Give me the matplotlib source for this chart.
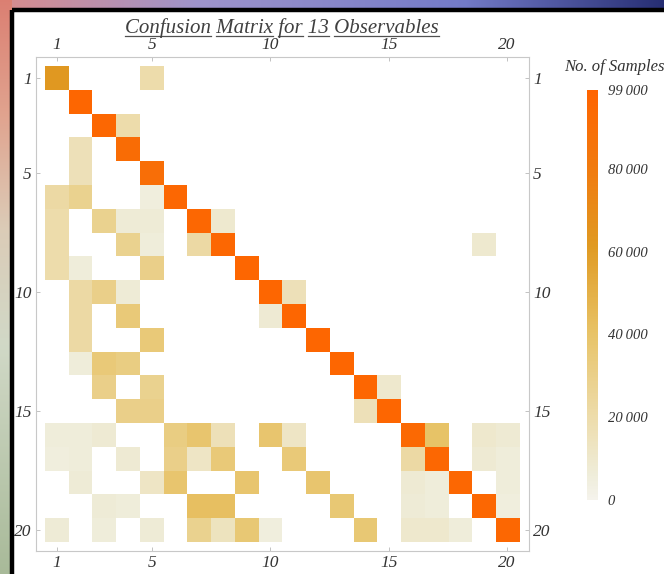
import numpy as np
import matplotlib.pyplot as plt
from matplotlib.colors import LinearSegmentedColormap
from matplotlib.patches import Rectangle
from matplotlib.lines import Line2D

plt.rcParams['font.family'] = ['Liberation Serif', 'DejaVu Serif']
plt.rcParams['font.style'] = 'italic'

# sample counts in thousands, row = true class, column = predicted class
counts_k = [
    [62, 0, 0, 0, 20, 0, 0, 0, 0, 0, 0, 0, 0, 0, 0, 0, 0, 0, 0, 0],
    [0, 97, 0, 0, 0, 0, 0, 0, 0, 0, 0, 0, 0, 0, 0, 0, 0, 0, 0, 0],
    [0, 0, 96, 20, 0, 0, 0, 0, 0, 0, 0, 0, 0, 0, 0, 0, 0, 0, 0, 0],
    [0, 16, 0, 92, 0, 0, 0, 0, 0, 0, 0, 0, 0, 0, 0, 0, 0, 0, 0, 0],
    [0, 16, 0, 0, 90, 0, 0, 0, 0, 0, 0, 0, 0, 0, 0, 0, 0, 0, 0, 0],
    [22, 28, 0, 0, 5, 96, 0, 0, 0, 0, 0, 0, 0, 0, 0, 0, 0, 0, 0, 0],
    [20, 0, 28, 7, 7, 0, 96, 9, 0, 0, 0, 0, 0, 0, 0, 0, 0, 0, 0, 0],
    [20, 0, 0, 28, 6, 0, 22, 96, 0, 0, 0, 0, 0, 0, 0, 0, 0, 0, 9, 0],
    [20, 6, 0, 0, 30, 0, 0, 0, 97, 0, 0, 0, 0, 0, 0, 0, 0, 0, 0, 0],
    [0, 22, 30, 7, 0, 0, 0, 0, 0, 97, 16, 0, 0, 0, 0, 0, 0, 0, 0, 0],
    [0, 22, 0, 35, 0, 0, 0, 0, 0, 8, 97, 0, 0, 0, 0, 0, 0, 0, 0, 0],
    [0, 22, 0, 0, 35, 0, 0, 0, 0, 0, 0, 97, 0, 0, 0, 0, 0, 0, 0, 0],
    [0, 6, 35, 32, 0, 0, 0, 0, 0, 0, 0, 0, 97, 0, 0, 0, 0, 0, 0, 0],
    [0, 0, 30, 0, 28, 0, 0, 0, 0, 0, 0, 0, 0, 97, 10, 0, 0, 0, 0, 0],
    [0, 0, 0, 30, 30, 0, 0, 0, 0, 0, 0, 0, 0, 16, 97, 0, 0, 0, 0, 0],
    [6, 6, 8, 0, 0, 32, 38, 16, 0, 38, 12, 0, 0, 0, 0, 94, 40, 0, 10, 8],
    [5, 6, 0, 8, 0, 30, 12, 35, 0, 0, 35, 0, 0, 0, 0, 22, 96, 0, 8, 6],
    [0, 7, 0, 0, 12, 38, 0, 0, 38, 0, 0, 38, 0, 0, 0, 8, 6, 96, 0, 6],
    [0, 0, 7, 6, 0, 0, 42, 42, 0, 0, 0, 0, 36, 0, 0, 7, 6, 0, 96, 5],
    [7, 0, 6, 0, 7, 0, 28, 14, 36, 5, 0, 0, 0, 36, 0, 10, 10, 6, 0, 96],
]
frame_ticks = [1, 5, 10, 15, 20]
cbar_ticks = [0, 20000, 40000, 60000, 80000, 99000]
title = "Confusion Matrix for 13 Observables"
cbar_title = "No. of Samples"

counts = np.array(counts_k) * 1000
n = counts.shape[0]

W, H = 664, 574
fig = plt.figure(figsize=(W / 100, H / 100), dpi=100)

# slide-style backdrop: gradient bands on top and left, black frame
bg = np.ones((H, W, 3))
tx = np.linspace(0, 1, W)
top_stops = [0, 0.3, 0.7, 1]
top_cols = np.array([[0.85, 0.55, 0.55], [0.62, 0.58, 0.80],
                     [0.45, 0.48, 0.78], [0.15, 0.18, 0.45]])
top = np.stack([np.interp(tx, top_stops, top_cols[:, c]) for c in range(3)], axis=1)
bg[:9, :, :] = top[None, :, :]
ty = np.linspace(0, 1, H)
left_stops = [0, 0.2, 0.4, 0.6, 1]
left_cols = np.array([[0.86, 0.50, 0.45], [0.88, 0.64, 0.56], [0.86, 0.80, 0.72],
                      [0.82, 0.85, 0.78], [0.66, 0.73, 0.60]])
left = np.stack([np.interp(ty, left_stops, left_cols[:, c]) for c in range(3)], axis=1)
bg[:, :12, :] = left[:, None, :]
bg_ax = fig.add_axes([0, 0, 1, 1], zorder=-1)
bg_ax.imshow(bg, extent=(0, W, H, 0), aspect='auto')
bg_ax.add_patch(Rectangle((11.5, 9.5), W, H, fill=False, lw=3.2, ec='black'))
bg_ax.set_xlim(0, W)
bg_ax.set_ylim(H, 0)
bg_ax.axis('off')

cmap = LinearSegmentedColormap.from_list('samples', [
    (0.0, '#f5f3ec'), (0.06, '#efedda'), (0.2, '#eddcab'), (0.4, '#e8c469'),
    (0.62, '#e09a22'), (0.8, '#f07c10'), (1.0, '#ff6400')])

ax = fig.add_axes([36 / W, 1 - 551 / H, (529 - 36) / W, (551 - 57) / H])
data = np.ma.masked_equal(counts, 0)
im = ax.imshow(data, cmap=cmap, vmin=0, vmax=99000, extent=(0.5, n + 0.5, n + 0.5, 0.5),
               interpolation='nearest', aspect='auto')
ax.set_xlim(0.12, n + 0.92)
ax.set_ylim(n + 0.88, 0.12)
ax.set_xticks(frame_ticks)
ax.set_yticks(frame_ticks)
ax.tick_params(top=True, right=True, labeltop=True, labelright=True, direction='in',
               length=3, width=0.6, color='#b8b8b8', labelcolor='#333333',
               labelsize=12.5, pad=3)
for s in ax.spines.values():
    s.set_color('#c8c8c8')
    s.set_linewidth(0.8)

cax = fig.add_axes([587 / W, 1 - 500 / H, 11 / W, 410 / H])
cbar = fig.colorbar(im, cax=cax, ticks=cbar_ticks)
cbar.outline.set_visible(False)
cbar.ax.set_yticklabels([f"{v:,}".replace(",", "\u2009") for v in cbar_ticks])
cbar.ax.tick_params(length=0, labelsize=10.5, labelcolor='#333333', pad=7)
fig.text(564 / W, 1 - 67 / H, cbar_title, fontsize=12, color='#333333', va='center')

# title with each word underlined
fig.canvas.draw()
r = fig.canvas.get_renderer()
def text_width(s):
    t = fig.text(0, 0, s, fontsize=15)
    w = t.get_window_extent(r).width
    t.remove()
    return w
total = text_width(title)
x0 = 282 - total / 2
base = 33
fig.text(x0 / W, 1 - base / H, title, fontsize=15, color='#404040', va='baseline')
pos = 0
for word in title.split():
    idx = title.index(word, pos)
    pos = idx + len(word)
    end = x0 + text_width(title[:pos])
    start = end - text_width(word)
    fig.add_artist(Line2D([start / W, end / W], [1 - (base + 3) / H] * 2,
                          transform=fig.transFigure, color='#505050', lw=0.9))

fig.savefig("out.png", dpi=100)
